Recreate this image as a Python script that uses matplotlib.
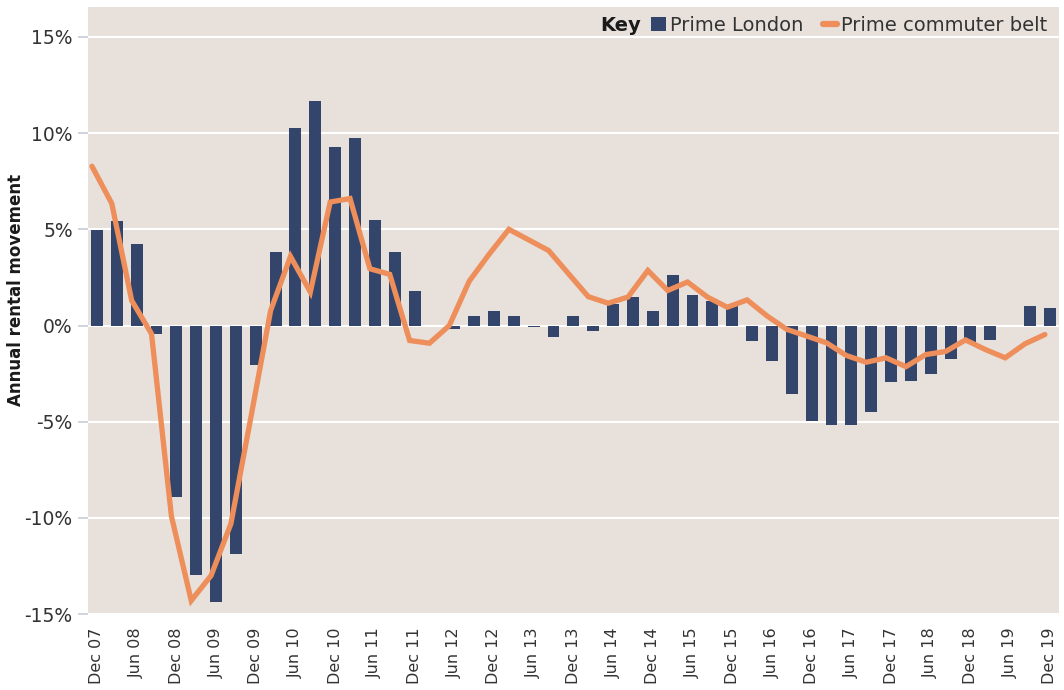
import matplotlib
matplotlib.use("Agg")
import matplotlib.pyplot as plt
from matplotlib.lines import Line2D
from matplotlib.patches import Patch
import numpy as np

plt.rcParams["font.family"] = ["DejaVu Sans"]

# ====== data (quarterly, Dec 07 .. Dec 19) ======
quarters = ["Dec 07", "Mar 08", "Jun 08", "Sep 08", "Dec 08", "Mar 09", "Jun 09", "Sep 09",
            "Dec 09", "Mar 10", "Jun 10", "Sep 10", "Dec 10", "Mar 11", "Jun 11", "Sep 11",
            "Dec 11", "Mar 12", "Jun 12", "Sep 12", "Dec 12", "Mar 13", "Jun 13", "Sep 13",
            "Dec 13", "Mar 14", "Jun 14", "Sep 14", "Dec 14", "Mar 15", "Jun 15", "Sep 15",
            "Dec 15", "Mar 16", "Jun 16", "Sep 16", "Dec 16", "Mar 17", "Jun 17", "Sep 17",
            "Dec 17", "Mar 18", "Jun 18", "Sep 18", "Dec 18", "Mar 19", "Jun 19", "Sep 19",
            "Dec 19"]

prime_london = [4.95, 5.42, 4.22, -0.45, -8.94, -12.97, -14.36, -11.86,
                -2.07, 3.8, 10.26, 11.67, 9.27, 9.74, 5.47, 3.8,
                1.77, 0.0, -0.2, 0.52, 0.78, 0.52, -0.1, -0.6,
                0.52, -0.3, 1.1, 1.5, 0.78, 2.6, 1.56, 1.25,
                0.99, -0.78, -1.86, -3.56, -4.98, -5.16, -5.16, -4.51,
                -2.95, -2.9, -2.53, -1.75, -0.87, -0.76, 0.0, 0.99,
                0.89]

commuter_belt = [8.28, 6.34, 1.3, -0.43, -9.9, -14.3, -13.0, -10.3,
                 -4.8, 0.78, 3.59, 1.74, 6.42, 6.6, 2.95, 2.66,
                 -0.78, -0.92, 0.0, 2.3, 3.7, 5.0, 4.45, 3.9,
                 2.7, 1.5, 1.16, 1.48, 2.86, 1.82, 2.26, 1.48,
                 0.95, 1.33, 0.5, -0.2, -0.55, -0.9, -1.56, -1.91,
                 -1.68, -2.14, -1.51, -1.35, -0.75, -1.25, -1.68, -0.95,
                 -0.47]

yticks = [-15, -10, -5, 0, 5, 10, 15]

# ====== colours ======
c_bg = "#E7E0DB"
c_bar = "#33456B"
c_line = "#EE8E5A"
c_text = "#333333"

x = np.arange(len(quarters))

fig = plt.figure(figsize=(10.64, 6.9), dpi=100)
ax = fig.add_axes([0.0827, 0.1087, 0.9126, 0.8812])
ax.set_facecolor(c_bg)

ax.bar(x, prime_london, width=0.6, color=c_bar, zorder=2)
ax.plot(x - 0.25, commuter_belt, color=c_line, linewidth=3.8,
        solid_capstyle="round", solid_joinstyle="miter", zorder=3)

ax.set_xlim(-0.45, 48.46)
ax.set_ylim(-15.05, 16.56)
ax.set_yticks(yticks)
ax.set_yticklabels([f"{v}%" for v in yticks])
ax.set_xticks(x[::2])
ax.set_xticklabels(quarters[::2], rotation=90, va="top", ha="center")

ax.grid(axis="y", color="white", linewidth=1.5, zorder=1)
ax.set_axisbelow(True)
for s in ax.spines.values():
    s.set_visible(False)

ax.tick_params(axis="y", length=7, width=1.2, color="#C9CDD8", pad=4,
               labelsize=13.5, labelcolor=c_text)
ax.tick_params(axis="x", length=0, pad=9, labelsize=11.5, labelcolor=c_text)

ax.set_ylabel("Annual rental movement", fontsize=12, fontweight="bold",
              color="#1a1a1a")
ax.yaxis.set_label_coords(-0.065, 0.534)

# ====== legend ======
handles = [Patch(facecolor=c_bar, edgecolor="none"),
           Line2D([0], [0], color=c_line, linewidth=4.5, solid_capstyle="round")]
leg = ax.legend(handles, ["Prime London", "Prime commuter belt"], ncol=2,
                loc="center right", bbox_to_anchor=(0.988, 0.9703), frameon=False,
                fontsize=14, handlelength=0.75, handleheight=0.75,
                handletextpad=0.2, columnspacing=1.0, borderpad=0,
                borderaxespad=0, labelcolor=c_text)

fig.canvas.draw()
bb = leg.get_window_extent().transformed(ax.transAxes.inverted())
ax.text(bb.x0 - 0.011, (bb.y0 + bb.y1) / 2, "Key", transform=ax.transAxes,
        ha="right", va="center", fontsize=14, fontweight="bold", color="#1a1a1a")

fig.savefig("out.png", dpi=100, facecolor="white")
